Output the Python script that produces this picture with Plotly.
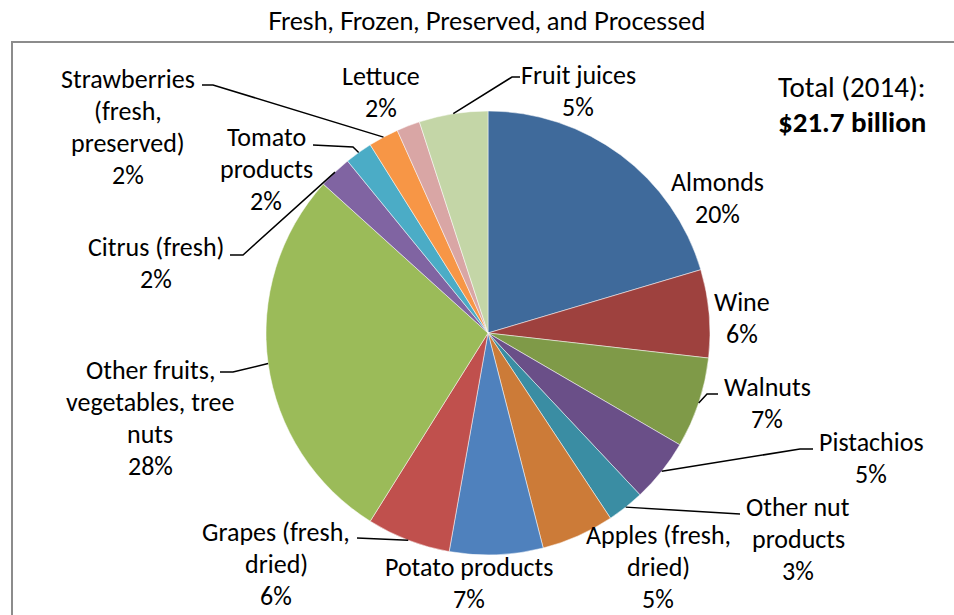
import math
import plotly.graph_objects as go

# ---- data ----
categories = ["Almonds", "Wine", "Walnuts", "Pistachios", "Other nut products",
              "Apples (fresh, dried)", "Potato products", "Grapes (fresh, dried)",
              "Other fruits, vegetables, tree nuts", "Citrus (fresh)", "Tomato products",
              "Strawberries (fresh, preserved)", "Lettuce", "Fruit juices"]
shares = [20.4, 6.4, 6.6, 4.6, 2.7, 5.3, 6.8, 6.1, 27.8, 2.4, 2.0, 2.2, 1.7, 5.0]
colors = ["#3F6A9B", "#9E413E", "#7F9A48", "#6A4F88", "#3A8DA3", "#CC7B38", "#4F81BD",
          "#C0504D", "#9BBB59", "#8064A2", "#4BACC6", "#F79646", "#D9A6A5", "#C4D6A7"]
label_lines = [["Almonds"], ["Wine"], ["Walnuts"], ["Pistachios"], ["Other nut", "products"],
               ["Apples (fresh,", "dried)"], ["Potato products"], ["Grapes (fresh,", "dried)"],
               ["Other fruits,", "vegetables, tree", "nuts"], ["Citrus (fresh)"], ["Tomato", "products"],
               ["Strawberries", "(fresh,", "preserved)"], ["Lettuce"], ["Fruit juices"]]
title_text = "Fresh, Frozen, Preserved, and Processed"
total_lines = ["Total (2014):", "<b>$21.7 billion</b>"]

# ---- layout (pixels) ----
W, H = 954, 615
CX, CY, R = 488, 333, 222
FONT = "Carlito, Lato, sans-serif"
LS = 32  # line spacing px
# label center x, first line y
label_pos = [(717, 182), (742, 302), (767, 387), (871, 442), (798, 507),
             (658, 535), (469, 567), (276, 532), (150, 370), (156, 247), (266, 137),
             (128, 79), (381, 76), (578, 75)]
# leader line path after the slice edge point (None = no leader)
leaders = [None, None, [(707, 394), (718, 394)], [(800, 449), (813, 449)], [(740, 514)],
           None, None, [(357, 538)], [(233, 372), (220, 372)], [(243, 255), (230, 255)],
           [(353, 147), (313, 145)], [(213, 85), (202, 85)], None, [(512, 77), (520, 77)]]

def px(x):
    return x / W

def py(y):
    return 1 - y / H

fig = go.Figure(go.Pie(
    labels=categories, values=shares, sort=False, direction="clockwise", rotation=0,
    marker=dict(colors=colors, line=dict(color="white", width=0.5)),
    textinfo="none", hoverinfo="label+percent", showlegend=False,
    domain=dict(x=[px(CX - R), px(CX + R)], y=[py(CY + R), py(CY - R)]),
))

total = sum(shares)
annotations = []
shapes = []
cum = 0.0
for i, v in enumerate(shares):
    mid = (cum + v / 2) / total * 2 * math.pi
    cum += v
    ex, ey = CX + R * math.sin(mid), CY - R * math.cos(mid)
    lx, ly = label_pos[i]
    lines = label_lines[i] + [f"{round(v / total * 100)}%"]
    for k, t in enumerate(lines):
        annotations.append(dict(x=px(lx), y=py(ly + k * LS), xref="paper", yref="paper",
                                text=t, showarrow=False, xanchor="center", yanchor="middle",
                                font=dict(family=FONT, size=26, color="black")))
    if leaders[i]:
        pts = [(ex, ey)] + leaders[i]
        path = "M " + " L ".join(f"{px(a)},{py(b)}" for a, b in pts)
        shapes.append(dict(type="path", xref="paper", yref="paper", path=path,
                           line=dict(color="black", width=1.5)))

annotations.append(dict(x=px(487), y=py(20), xref="paper", yref="paper", text=title_text,
                        showarrow=False, xanchor="center", yanchor="middle",
                        font=dict(family="Gill Sans, Lato, sans-serif", size=25, color="black")))
for k, t in enumerate(total_lines):
    annotations.append(dict(x=px(776), y=py(87 + k * 35), xref="paper", yref="paper", text=t,
                            showarrow=False, xanchor="left", yanchor="middle",
                            font=dict(family=FONT, size=29, color="black")))

shapes.append(dict(type="rect", xref="paper", yref="paper", x0=px(12), x1=1.2, y0=-0.2, y1=py(42),
                   line=dict(color="#8C8C8C", width=2), layer="below"))

fig.update_layout(width=W, height=H, margin=dict(l=0, r=0, t=0, b=0),
                  paper_bgcolor="white", plot_bgcolor="white",
                  annotations=annotations, shapes=shapes)
fig.write_html("out.html", config={"displayModeBar": False},
               post_script="document.body.style.margin='0';document.body.style.overflow='hidden';")
